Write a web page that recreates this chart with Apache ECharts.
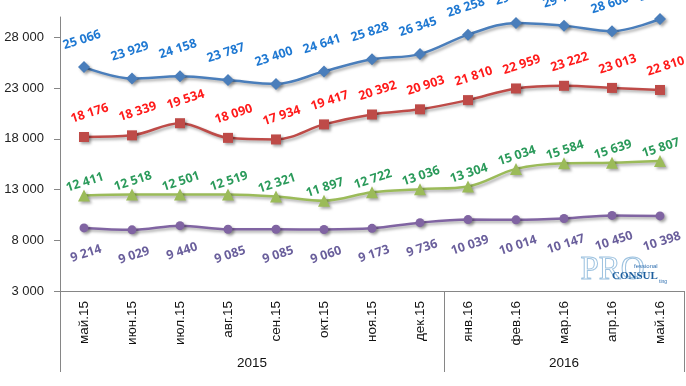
<!DOCTYPE html>
<html><head><meta charset="utf-8">
<script src="https://cdn.jsdelivr.net/npm/echarts@6/dist/echarts.min.js"></script>
<style>html,body{margin:0;padding:0;background:#fff}#c{width:686px;height:386px}</style>
</head><body><div id="c"></div>
<script>
var categories = ['май.15','июн.15','июл.15','авг.15','сен.15','окт.15','ноя.15','дек.15','янв.16','фев.16','мар.16','апр.16','май.16'];
var yearLabels = ['2015','2016'];
var yearCounts = [8, 5];
var yTicks = [3000, 8000, 13000, 18000, 23000, 28000];
var blueValues = [25066, 23929, 24158, 23787, 23400, 24641, 25828, 26345, 28258, 29420, 29150, 28600, 29800];
var redValues = [18176, 18339, 19534, 18090, 17934, 19417, 20392, 20903, 21810, 22959, 23222, 23013, 22810];
var greenValues = [12411, 12518, 12501, 12519, 12321, 11897, 12722, 13036, 13304, 15034, 15584, 15639, 15807];
var purpleValues = [9214, 9029, 9440, 9085, 9085, 9060, 9173, 9736, 10039, 10014, 10147, 10450, 10398];

function fmt(v){ return String(v).replace(/\B(?=(\d{3})+(?!\d))/g, ' '); }

var bounds = [0], yearCenters = [];
yearCounts.forEach(function(n, i){ var s = bounds[bounds.length-1]; yearCenters.push(s + n/2); bounds.push(s + n); });

var shadow = {shadowColor:'rgba(0,0,0,0.35)', shadowBlur:3, shadowOffsetX:2, shadowOffsetY:2};
function mkSeries(data, lineColor, labelColor, symbol, size, pos, dist, offX){
  return {
    type:'line', data:data, smooth:0.35, symbol:symbol, symbolSize:size,
    lineStyle:Object.assign({color:lineColor, width:2.5}, shadow),
    itemStyle:Object.assign({color:lineColor}, shadow),
    label:{show:true, position:pos, distance:dist, offset:[offX,0], rotate:18, formatter:function(p){return fmt(p.value);},
      color:labelColor, fontFamily:'Open Sans', fontWeight:'bold', fontSize:12.5},
    z:3
  };
}

var chart = echarts.init(document.getElementById('c'), null, {renderer:'canvas'});
chart.setOption({
  animation:false,
  grid:{left:60, right:2, top:17, bottom:95},
  xAxis:[{
    type:'category', data:categories, boundaryGap:true,
    axisLine:{lineStyle:{color:'#868686', width:1}},
    axisTick:{interval:0, length:54, lineStyle:{color:'#9a9a9a'}},
    axisLabel:{interval:0, rotate:90, margin:10, fontSize:13.5, color:'#111', fontFamily:'Liberation Sans Narrow, Liberation Sans'}
  },{
    type:'value', min:0, max:categories.length, position:'bottom',
    axisLine:{show:false}, splitLine:{show:false},
    axisTick:{show:true, customValues:bounds, length:81, lineStyle:{color:'#868686'}},
    axisLabel:{customValues:yearCenters, margin:65, fontSize:13.5, color:'#111', fontFamily:'Liberation Sans Narrow, Liberation Sans',
      formatter:function(v){ for(var i=0;i<yearCenters.length;i++){ if(Math.abs(yearCenters[i]-v)<1e-6) return yearLabels[i]; } return ''; }}
  }],
  yAxis:{
    type:'value', min:3000, max:30000,
    axisLine:{show:true, lineStyle:{color:'#868686'}},
    axisTick:{show:true, length:6, customValues:yTicks, lineStyle:{color:'#868686'}},
    axisLabel:{customValues:yTicks, margin:16, fontSize:13, color:'#222', fontFamily:'Liberation Sans Narrow, Liberation Sans', formatter:function(v){return fmt(v);}},
    splitLine:{show:false}
  },
  series:[
    mkSeries(blueValues, '#4A7EBB', '#1E78D2', 'diamond', 12, 'top', 15, 0),
    mkSeries(redValues, '#BE4B48', '#FF1A1A', 'rect', 10, 'top', 10, 8),
    mkSeries(greenValues, '#9BBB59', '#2A9A5A', 'triangle', 12, 'top', 0, 3),
    mkSeries(purpleValues, '#8064A2', '#6A5F9C', 'circle', 9, 'bottom', 15, 0)
  ],
  graphic:[
    {type:'text', left:580, top:253, style:{text:'PRO', font:'33px "Liberation Serif"', fill:'rgba(255,255,255,0)', stroke:'#9EC3E0', lineWidth:1}},
    {type:'text', left:634, top:263, style:{text:'fessional', font:'6px "Liberation Sans"', fill:'#2F6FB0'}},
    {type:'text', left:612, top:271, style:{text:'CONSUL', font:'bold 11px "Liberation Serif"', fill:'#1E5F9E'}},
    {type:'text', left:659, top:279, style:{text:'ting', font:'5px "Liberation Sans"', fill:'#2F6FB0'}}
  ]
});
</script></body></html>
